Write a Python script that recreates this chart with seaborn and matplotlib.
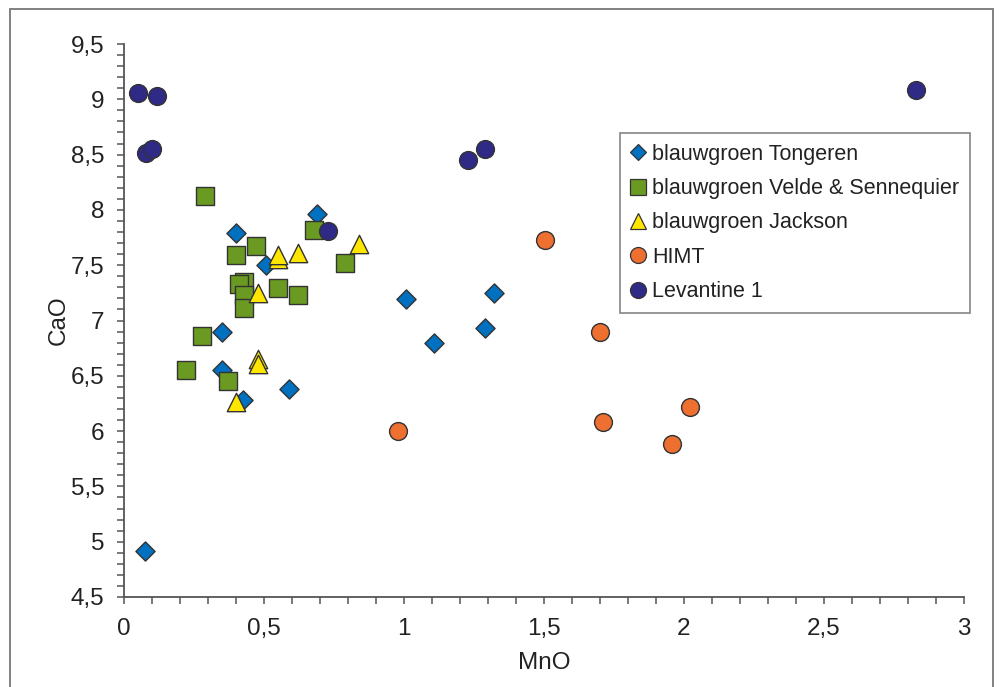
import numpy as np
import pandas as pd
import matplotlib
matplotlib.use("Agg")
import matplotlib.pyplot as plt
import seaborn as sns
from matplotlib.ticker import MultipleLocator, FuncFormatter
from matplotlib.patches import Rectangle
from matplotlib.lines import Line2D

# ---- data (MnO, CaO) ----
tongeren_x = [0.075, 0.40, 0.69, 0.507, 0.35, 0.35, 0.425, 0.59, 1.007, 1.107, 1.289, 1.321]
tongeren_y = [4.92, 7.79, 7.96, 7.50, 6.90, 6.55, 6.28, 6.38, 7.19, 6.80, 6.93, 7.25]

velde_x = [0.29, 0.68, 0.47, 0.40, 0.79, 0.43, 0.41, 0.43, 0.43, 0.55, 0.62, 0.28, 0.22, 0.37]
velde_y = [8.13, 7.82, 7.67, 7.59, 7.52, 7.35, 7.33, 7.23, 7.11, 7.29, 7.23, 6.86, 6.55, 6.45]

jackson_x = [0.84, 0.62, 0.55, 0.55, 0.48, 0.48, 0.48, 0.40]
jackson_y = [7.69, 7.61, 7.56, 7.59, 7.25, 6.65, 6.61, 6.26]

himt_x = [1.504, 1.70, 0.979, 1.711, 1.957, 2.021]
himt_y = [7.73, 6.90, 6.00, 6.08, 5.88, 6.22]

lev_x = [0.05, 0.118, 0.079, 0.10, 1.229, 1.289, 0.729, 2.829]
lev_y = [9.06, 9.03, 8.51, 8.55, 8.45, 8.55, 7.81, 9.08]

labels = ["blauwgroen Tongeren", "blauwgroen Velde & Sennequier",
          "blauwgroen Jackson", "HIMT", "Levantine 1"]
colors = ["#0070C0", "#6A9A22", "#FFE600", "#ED7031", "#2F2A85"]
markers = ["D", "s", "^", "o", "o"]
sizes = [95, 165, 175, 165, 165]

series = [(tongeren_x, tongeren_y), (velde_x, velde_y), (jackson_x, jackson_y),
          (himt_x, himt_y), (lev_x, lev_y)]

sns.set_theme(style="white")
plt.rcParams['font.family'] = ['Liberation Sans', 'DejaVu Sans']

fig = plt.figure(figsize=(10.01, 6.87), dpi=100)
ax = fig.add_axes([124/1001, 1-597/687, (964-124)/1001, (597-44)/687])

for (xs, ys), lab, c, m, s in zip(series, labels, colors, markers, sizes):
    df = pd.DataFrame({"MnO": xs, "CaO": ys})
    sns.scatterplot(data=df, x="MnO", y="CaO", ax=ax, color=c, marker=m, s=s,
                    edgecolor="#333333", linewidth=1.0, legend=False, zorder=3)

ax.set_xlim(0, 3)
ax.set_ylim(4.5, 9.5)
ax.xaxis.set_major_locator(MultipleLocator(0.5))
ax.xaxis.set_minor_locator(MultipleLocator(0.1))
ax.yaxis.set_major_locator(MultipleLocator(0.5))
ax.yaxis.set_minor_locator(MultipleLocator(0.1))
fmt = FuncFormatter(lambda v, p: ("%g" % round(v, 2)).replace(".", ","))
ax.xaxis.set_major_formatter(fmt)
ax.yaxis.set_major_formatter(fmt)

for side in ["top", "right"]:
    ax.spines[side].set_visible(False)
for side in ["left", "bottom"]:
    ax.spines[side].set_color("#555555")
    ax.spines[side].set_linewidth(1.3)

ax.tick_params(which="both", direction="out", length=5, width=1.1, color="#555555",
               bottom=True, left=True)
ax.tick_params(which="major", labelsize=17.5, labelcolor="#222222")
ax.tick_params(axis="x", which="major", pad=10)
ax.tick_params(axis="y", which="major", pad=9)
ax.set_xlabel("MnO", fontsize=17.5, color="#222222", labelpad=9)
ax.set_ylabel("CaO", fontsize=17.5, color="#222222", labelpad=1)
ax.grid(False)

handles = [Line2D([], [], linestyle="none", marker=m, markersize=(8.5 if m == "D" else 11.5),
                  markerfacecolor=c, markeredgecolor="#333333", markeredgewidth=0.9)
           for m, c in zip(markers, colors)]
leg = ax.legend(handles, labels, loc="upper left",
                bbox_to_anchor=((620-124)/840, (597-133)/553),
                frameon=True, fancybox=False, fontsize=15.5, handlelength=0.7,
                handletextpad=0.3, labelspacing=0.62, borderpad=0.5,
                borderaxespad=0)
leg.get_frame().set_edgecolor("#666666")
leg.get_frame().set_linewidth(1.2)
for t in leg.get_texts():
    t.set_color("#222222")

fig.patches.append(Rectangle((10/1001, -0.02), (993-10)/1001, 1.02 - 9/687,
                             transform=fig.transFigure, fill=False,
                             edgecolor="#777777", linewidth=1.3))

fig.savefig("out.png", dpi=100)
